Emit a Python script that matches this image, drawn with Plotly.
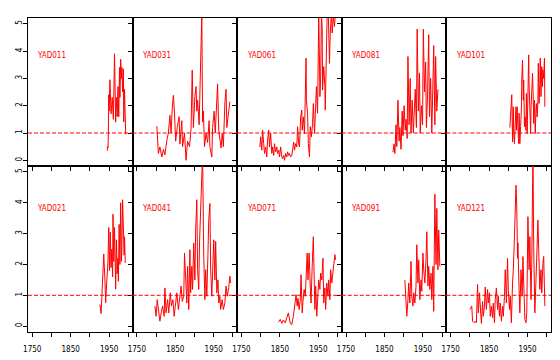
import plotly.graph_objects as go

# ---------------- data ----------------
panel_names = ["YAD011", "YAD031", "YAD061", "YAD081", "YAD101",
               "YAD021", "YAD041", "YAD071", "YAD091", "YAD121"]

yad011_years = [1945, 1946, 1947, 1948, 1949, 1950, 1952, 1955, 1958, 1961, 1964, 1967, 1969, 1971, 1973,
                1975, 1977, 1978, 1980, 1982, 1983, 1985, 1987, 1988, 1990, 1993]
yad011_vals = [0.35, 0.5, 0.45, 1.0, 2.4, 1.8, 2.95, 1.7, 2.3, 1.5, 3.9, 1.4, 2.3, 1.6, 2.7,
               1.6, 3.4, 2.3, 3.7, 3.0, 3.4, 2.5, 3.35, 1.4, 2.6, 0.95]

yad031_years = [1802, 1806, 1810, 1815, 1819, 1823, 1828, 1832, 1836, 1839, 1842, 1845, 1848, 1851, 1855,
                1860, 1862, 1867, 1869, 1874, 1878, 1882, 1887, 1891, 1894, 1897, 1901, 1904, 1906, 1908,
                1912, 1916, 1919, 1921, 1923, 1926, 1930, 1934, 1938, 1940, 1945, 1947, 1951, 1954, 1958,
                1960, 1963, 1966, 1969, 1972, 1975, 1979, 1982, 1984, 1988, 1991, 1992]
yad031_vals = [1.25, 0.25, 0.49, 0.12, 0.4, 0.2, 0.73, 1.0, 1.65, 1.0, 1.9, 2.38, 1.7, 0.7, 1.2,
               1.6, 0.6, 1.45, 0.5, 1.0, 0.0, 0.7, 0.5, 1.15, 3.3, 1.2, 2.35, 2.7, 1.8, 2.2,
               1.3, 4.2, 5.4, 1.4, 1.8, 0.5, 1.0, 0.65, 1.45, 0.5, 0.12, 1.2, 1.8, 1.0, 1.95,
               2.8, 1.1, 0.7, 0.45, 1.0, 0.5, 2.1, 2.6, 1.2, 1.6, 1.95, 2.15]

yad061_years = [1798, 1800, 1803, 1805, 1808, 1810, 1813, 1816, 1818, 1821, 1823, 1826, 1829, 1831, 1834,
                1836, 1839, 1842, 1844, 1847, 1849, 1852, 1855, 1857, 1860, 1862, 1865, 1868, 1870, 1873,
                1875, 1878, 1881, 1883, 1886, 1888, 1891, 1894, 1896, 1899, 1901, 1904, 1907, 1908, 1911,
                1914, 1916, 1918, 1919, 1922, 1924, 1927, 1929, 1932, 1935, 1937, 1940, 1942, 1945, 1948,
                1949, 1951, 1953, 1954, 1956, 1958, 1960, 1961, 1964, 1967, 1968, 1971, 1973, 1976, 1979,
                1981, 1984, 1986, 1989, 1992, 1994]
yad061_vals = [0.49, 0.86, 0.37, 1.1, 0.61, 0.25, 0.49, 0.12, 0.74, 1.1, 0.49, 0.98, 0.25, 0.49, 0.18,
               0.61, 0.31, 0.49, 0.25, 0.37, 0.12, 0.49, 0.12, 0.06, 0.18, 0.0, 0.25, 0.12, 0.31, 0.18,
               0.25, 0.12, 0.18, 0.37, 0.67, 0.37, 0.61, 0.49, 1.23, 0.61, 0.49, 1.59, 1.84, 1.1, 1.59,
               0.98, 2.45, 3.74, 2.2, 1.72, 0.61, 0.12, 1.23, 0.86, 1.35, 2.08, 0.98, 1.84, 2.7, 1.72,
               3.43, 5.3, 3.6, 2.33, 2.94, 5.3, 4.9, 2.57, 3.43, 2.7, 1.84, 3.43, 5.4, 5.3, 3.55,
               4.66, 5.4, 4.66, 5.3, 4.9, 5.3]

yad081_years = [1872, 1875, 1877, 1880, 1882, 1885, 1888, 1890, 1893, 1896, 1898, 1901, 1904, 1906, 1909,
                1911, 1914, 1917, 1919, 1922, 1925, 1927, 1930, 1933, 1935, 1938, 1941, 1943, 1946, 1949,
                1951, 1954, 1957, 1959, 1962, 1965, 1967, 1970, 1973, 1975, 1978, 1981, 1983, 1986, 1989]
yad081_vals = [0.3, 0.6, 0.25, 1.3, 0.5, 2.2, 0.7, 1.2, 0.4, 1.8, 0.9, 2.0, 1.1, 1.5, 0.8,
               3.8, 1.3, 3.0, 1.0, 2.2, 1.0, 1.6, 2.6, 1.2, 4.8, 1.8, 3.2, 1.0, 2.0, 1.3,
               4.8, 2.5, 3.6, 1.2, 2.4, 4.6, 1.6, 3.0, 1.0, 2.2, 4.2, 1.3, 3.8, 1.8, 2.6]

yad101_years = [1904, 1906, 1909, 1911, 1913, 1914, 1916, 1918, 1920, 1921, 1923, 1925, 1927, 1928, 1930,
                1932, 1934, 1935, 1937, 1939, 1940, 1942, 1944, 1946, 1947, 1949, 1951, 1953, 1954, 1956,
                1958, 1959, 1961, 1963, 1965, 1966, 1968, 1970, 1972, 1973, 1975, 1977, 1978, 1980, 1982,
                1983, 1985, 1987, 1989, 1990, 1992, 1994, 1995]
yad101_vals = [1.2, 1.84, 2.4, 0.67, 1.96, 0.98, 0.61, 1.35, 1.96, 1.1, 1.96, 1.2, 0.61, 1.72, 0.61,
               1.23, 1.84, 2.94, 3.67, 2.2, 2.94, 1.23, 1.59, 1.1, 2.45, 0.98, 2.7, 3.86, 2.82, 1.59,
               0.98, 1.84, 2.45, 3.19, 2.2, 1.35, 2.2, 0.98, 1.84, 2.08, 1.59, 2.2, 3.55, 2.08, 2.82,
               3.74, 2.33, 3.43, 2.7, 3.31, 3.0, 3.74, 1.96]

yad021_years = [1926, 1929, 1931, 1934, 1936, 1939, 1941, 1944, 1947, 1949, 1951, 1953, 1955, 1957, 1959,
                1960, 1962, 1964, 1966, 1967, 1969, 1971, 1973, 1974, 1976, 1978, 1980, 1982, 1983, 1985,
                1987, 1989, 1990, 1992]
yad021_vals = [0.7, 0.41, 0.93, 1.83, 2.34, 1.5, 0.76, 1.5, 2.1, 3.2, 1.8, 3.05, 1.9, 2.5, 1.6,
               3.63, 2.1, 3.2, 2.05, 1.2, 2.8, 1.7, 2.2, 1.45, 3.3, 2.0, 4.0, 2.1, 2.5, 4.1,
               2.7, 2.3, 2.9, 2.05]

yad041_years = [1797, 1800, 1803, 1807, 1810, 1814, 1817, 1821, 1823, 1826, 1830, 1833, 1837, 1840, 1844,
                1847, 1851, 1854, 1858, 1861, 1865, 1868, 1872, 1874, 1877, 1880, 1882, 1885, 1888, 1890,
                1893, 1895, 1898, 1901, 1903, 1906, 1908, 1911, 1913, 1916, 1919, 1921, 1924, 1927, 1929,
                1932, 1935, 1937, 1940, 1942, 1945, 1948, 1950, 1953, 1955, 1958, 1961, 1963, 1966, 1968,
                1972, 1975, 1979, 1982, 1985, 1989, 1992, 1994]
yad041_vals = [0.65, 0.32, 0.86, 0.43, 0.16, 0.48, 0.65, 0.32, 1.24, 0.43, 0.86, 0.43, 1.08, 0.65, 0.86,
               0.32, 0.75, 1.08, 0.54, 0.97, 1.3, 0.8, 0.97, 2.37, 1.5, 0.75, 1.94, 0.54, 2.48, 1.08,
               1.94, 1.19, 2.7, 1.5, 3.12, 4.1, 1.83, 1.19, 2.7, 3.66, 4.57, 5.6, 2.26, 0.86, 1.83,
               0.97, 2.37, 3.44, 3.98, 1.83, 0.97, 2.37, 2.8, 1.5, 2.75, 1.08, 1.5, 0.75, 0.97, 0.54,
               0.86, 0.54, 0.75, 1.3, 0.97, 1.25, 1.62, 1.4]

yad071_years = [1846, 1851, 1855, 1859, 1864, 1868, 1872, 1877, 1881, 1885, 1890, 1892, 1895, 1897, 1900,
                1903, 1905, 1908, 1910, 1913, 1916, 1918, 1921, 1923, 1926, 1929, 1931, 1934, 1937, 1938,
                1941, 1943, 1946, 1949, 1951, 1954, 1956, 1959, 1962, 1964, 1967, 1969, 1972, 1975, 1977,
                1980, 1982, 1985, 1988, 1990, 1993, 1995]
yad071_vals = [0.13, 0.22, 0.09, 0.2, 0.11, 0.27, 0.43, 0.09, 0.05, 0.32, 0.75, 1.02, 0.65, 0.9, 0.54,
               0.86, 1.67, 0.43, 0.8, 1.19, 0.97, 1.4, 2.37, 1.5, 2.37, 1.3, 0.75, 1.94, 2.9, 2.26,
               0.54, 1.3, 0.32, 1.08, 1.5, 1.19, 1.72, 1.5, 2.2, 0.75, 1.24, 0.54, 1.4, 0.97, 1.5,
               0.86, 1.83, 1.4, 1.72, 1.94, 2.32, 2.15]

yad091_years = [1903, 1906, 1908, 1911, 1913, 1916, 1919, 1921, 1924, 1926, 1929, 1932, 1934, 1937, 1939,
                1942, 1945, 1947, 1950, 1952, 1955, 1958, 1960, 1963, 1965, 1968, 1971, 1973, 1976, 1978,
                1981, 1984, 1986, 1989, 1991, 1994]
yad091_vals = [1.5, 0.86, 0.32, 0.86, 1.4, 0.75, 2.1, 0.97, 0.65, 1.08, 0.75, 1.3, 2.64, 1.4, 2.15,
               0.86, 1.5, 1.13, 2.37, 1.83, 1.4, 2.15, 3.06, 1.3, 1.94, 1.19, 1.72, 0.86, 1.94, 0.48,
               4.28, 2.0, 3.82, 1.83, 3.12, 1.94]

yad121_years = [1800, 1805, 1807, 1811, 1814, 1817, 1820, 1822, 1825, 1827, 1830, 1833, 1835, 1838, 1840,
                1843, 1846, 1848, 1851, 1853, 1856, 1859, 1861, 1864, 1866, 1869, 1872, 1874, 1877, 1879,
                1882, 1885, 1887, 1890, 1892, 1895, 1898, 1900, 1903, 1905, 1908, 1911, 1913, 1916, 1918,
                1920, 1922, 1924, 1925, 1927, 1929, 1930, 1933, 1936, 1938, 1941, 1943, 1946, 1948, 1951,
                1954, 1956, 1959, 1961, 1964, 1966, 1969, 1972, 1974, 1977, 1979, 1982, 1985, 1987, 1990,
                1992, 1995]
yad121_vals = [0.54, 0.65, 0.16, 0.11, 0.16, 0.11, 1.35, 0.43, 1.08, 0.54, 0.09, 0.8, 0.32, 0.65, 1.27,
               0.54, 1.19, 0.75, 1.08, 0.32, 0.65, 0.27, 0.75, 0.11, 0.86, 1.24, 0.54, 0.97, 0.32, 0.75,
               0.16, 0.65, 0.32, 0.97, 1.83, 0.75, 2.2, 1.19, 0.54, 0.97, 0.11, 1.4, 1.83, 2.9, 4.2,
               4.57, 3.87, 2.2, 2.7, 1.62, 0.65, 0.43, 1.83, 0.97, 2.26, 0.65, 0.22, 0.11, 0.43, 3.55,
               1.83, 2.9, 0.86, 2.03, 5.6, 2.58, 0.43, 1.5, 2.37, 3.44, 2.48, 1.19, 1.83, 1.08, 2.03,
               2.26, 0.65]

series_years = [yad011_years, yad031_years, yad061_years, yad081_years, yad101_years,
                yad021_years, yad041_years, yad071_years, yad091_years, yad121_years]
series_vals = [yad011_vals, yad031_vals, yad061_vals, yad081_vals, yad101_vals,
               yad021_vals, yad041_vals, yad071_vals, yad091_vals, yad121_vals]

x_tickvals = [1750, 1800, 1850, 1900, 1950, 2000]
x_ticktext = ["1750", "", "1850", "", "1950", ""]
y_tickvals = [0, 1, 2, 3, 4, 5]
reference_level = 1

# ---------------- layout ----------------
W, H = 560, 360
left_px, right_px = 28, 551
top_px, mid_px, bot_px = 18, 165.5, 332
col_w = (right_px - left_px) / 5

FONT = "Liberation Sans Narrow, DejaVu Sans Condensed, Liberation Sans, Arial"

fig = go.Figure()
layout = dict(
    width=W, height=H, margin=dict(l=0, r=0, t=0, b=0, pad=0, autoexpand=False),
    paper_bgcolor="white", plot_bgcolor="white", showlegend=False,
    font=dict(family=FONT, size=8, color="black"),
)
shapes, annotations = [], []

for i in range(10):
    row, col = divmod(i, 5)
    n = "" if i == 0 else str(i + 1)
    xd = [(left_px + col * col_w) / W, (left_px + (col + 1) * col_w) / W]
    if row == 0:
        yd = [1 - mid_px / H, 1 - top_px / H]
    else:
        yd = [1 - bot_px / H, 1 - mid_px / H]
    layout["xaxis" + n] = dict(
        domain=xd, anchor="y" + n, range=[1739, 2011], automargin=False,
        tickvals=x_tickvals, ticktext=x_ticktext if row == 1 else [""] * 6,
        ticks="outside", ticklen=4, tickwidth=1, tickcolor="black",
        ticklabelstandoff=5,
        showline=True, mirror=True, linecolor="black", linewidth=1,
        showgrid=False, zeroline=False, tickfont=dict(size=8, family=FONT),
    )
    layout["yaxis" + n] = dict(
        domain=yd, anchor="x" + n, range=[-0.19, 5.21], automargin=False,
        tickvals=y_tickvals,
        ticktext=[str(v) for v in y_tickvals] if col == 0 else [""] * 6,
        tickangle=-90, ticklabelstandoff=-2,
        ticks="outside", ticklen=4, tickwidth=1, tickcolor="black",
        showline=True, mirror=True, linecolor="black", linewidth=1,
        showgrid=False, zeroline=False, tickfont=dict(size=8, family=FONT),
    )
    fig.add_trace(go.Scatter(
        x=series_years[i], y=series_vals[i], mode="lines",
        line=dict(color="#ff0000", width=1), xaxis="x" + n, yaxis="y" + n,
        hoverinfo="skip",
    ))
    shapes.append(dict(
        type="line", xref="x" + n + " domain", yref="y" + n,
        x0=0, x1=1, y0=reference_level, y1=reference_level,
        line=dict(color="#ff0000", width=1, dash="4px,2px"),
    ))
    annotations.append(dict(
        text=panel_names[i], xref="x" + n + " domain", yref="y" + n,
        x=0.07, y=3.83, xanchor="left", yanchor="middle", showarrow=False,
        font=dict(color="#ff0000", size=8, family=FONT),
    ))

layout["shapes"] = shapes
layout["annotations"] = annotations
fig.update_layout(**layout)
fig.write_html(
    "out.html",
    config={"displayModeBar": False},
    post_script="document.body.style.margin='0px';document.body.style.overflow='hidden';",
)
